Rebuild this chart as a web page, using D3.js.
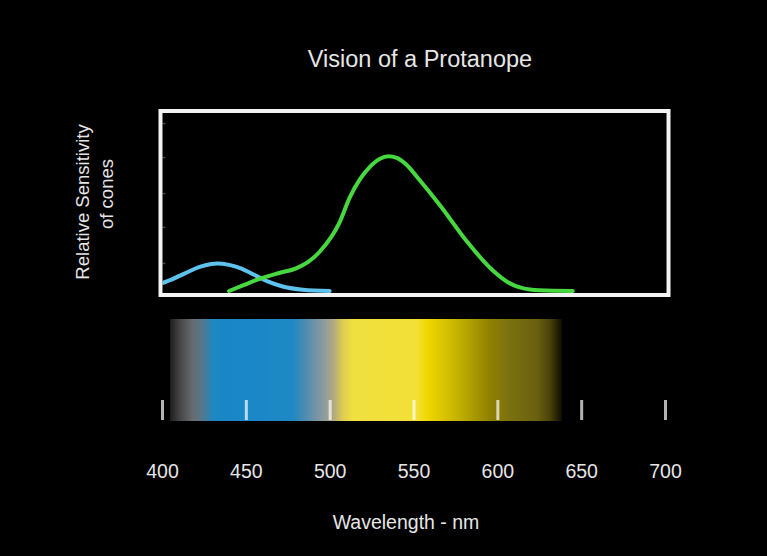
<!DOCTYPE html>
<html>
<head>
<meta charset="utf-8">
<script src="https://cdn.jsdelivr.net/npm/d3@7"></script>
<style>
  html, body { margin: 0; padding: 0; background: #000; }
  svg { display: block; }
  text { font-family: "Liberation Sans", Arial, sans-serif; fill: #e6e6e6; }
</style>
</head>
<body>
<div id="chart"></div>
<script>
// ---- data ----
const title = "Vision of a Protanope";
const yLabelLines = ["Relative Sensitivity", "of cones"];
const xLabel = "Wavelength - nm";
const xTicks = [400, 450, 500, 550, 600, 650, 700];
const yMinorTicks = [0.156, 0.356, 0.544, 0.744, 0.933];

// S-cone (blue) relative sensitivity, [wavelength nm, value]
const blueCone = [[399,0.04],[406,0.065],[413,0.095],[423,0.135],[433,0.153],[440,0.145],
  [447,0.126],[455,0.09],[463,0.053],[472,0.025],[484,0.007],[500,0]];
// M-cone (green) relative sensitivity
const greenCone = [[440,0],[449,0.034],[459,0.07],[470,0.1],[480,0.126],[487,0.16],[494,0.218],
  [506,0.383],[512,0.52],[518,0.62],[524,0.69],[530,0.735],[535,0.749],[540,0.74],[546,0.70],
  [552,0.635],[566,0.474],[582,0.273],[598,0.108],[606,0.05],[615,0.016],[625,0.004],[645,0]];

// perceived spectrum (protanope), [wavelength nm, colour]
const spectrumStops = [[404.8,"#1e1e1e"],[410.7,"#454545"],[418.5,"#686c70"],[424.5,"#50788f"],
  [430.4,"#1e88c0"],[438.8,"#1887c8"],[458.4,"#1a88c6"],[478.1,"#2088c4"],[482.3,"#3a8ab8"],
  [490,"#6a90a8"],[496,"#8a9aa0"],[502,"#b0a880"],[508,"#e0cc50"],[513.9,"#f0e040"],
  [552,"#f2e035"],[558,"#f0d800"],[571.8,"#d0bc00"],[583.7,"#b0a000"],[595.6,"#908000"],
  [607.5,"#7a7010"],[623.6,"#6a6010"],[631.4,"#4a4208"],[638.5,"#0e0d00"]];
const spectrumRange = [404.8, 638.5];
const frameRange = [399.1, 702.1];

// ---- layout ----
const W = 767, H = 556;
const svg = d3.select("#chart").append("svg").attr("width", W).attr("height", H);
svg.append("rect").attr("width", W).attr("height", H).attr("fill", "#000");

const x = d3.scaleLinear().domain([400, 700]).range([162, 665]);
const y = d3.scaleLinear().domain([0, 1]).range([291, 111]);

// title
svg.append("text").attr("x", 420).attr("y", 67).attr("text-anchor", "middle")
  .attr("font-size", 23.5).text(title);

// y label
const yl = svg.append("g");
yl.append("text").attr("transform", "translate(89,202) rotate(-90)")
  .attr("text-anchor", "middle").attr("font-size", 18.5).text(yLabelLines[0]);
yl.append("text").attr("transform", "translate(112.5,194) rotate(-90)")
  .attr("text-anchor", "middle").attr("font-size", 18.5).text(yLabelLines[1]);

// plot area clip
const frameX0 = x(frameRange[0]), frameX1 = x(frameRange[1]);
svg.append("clipPath").attr("id", "plotclip").append("rect")
  .attr("x", frameX0 + 2).attr("y", 113).attr("width", frameX1 - frameX0 - 4).attr("height", 180);

// faint inner ticks on left side
const yAxis = d3.axisRight(y).tickValues(yMinorTicks).tickSize(3).tickFormat("");
const ya = svg.append("g").attr("transform", `translate(${frameX0 + 2},0)`).call(yAxis);
ya.select(".domain").remove();
ya.selectAll("line").attr("stroke", "#888").attr("stroke-width", 1.5).attr("opacity", 0.5);

const line = d3.line().x(d => x(d[0])).y(d => y(d[1])).curve(d3.curveMonotoneX);
const plot = svg.append("g").attr("clip-path", "url(#plotclip)");
plot.append("path").datum(blueCone).attr("d", line).attr("fill", "none")
  .attr("stroke", "#5ec3ec").attr("stroke-width", 4).attr("stroke-linecap", "round");
plot.append("path").datum(greenCone).attr("d", line).attr("fill", "none")
  .attr("stroke", "#47d83f").attr("stroke-width", 4).attr("stroke-linecap", "round");

// frame
svg.append("rect").attr("x", frameX0).attr("y", 111)
  .attr("width", frameX1 - frameX0).attr("height", 184)
  .attr("fill", "none").attr("stroke", "#f2f2f2").attr("stroke-width", 4);

// spectrum bar
const grad = svg.append("defs").append("linearGradient").attr("id", "spec")
  .attr("gradientUnits", "userSpaceOnUse")
  .attr("x1", x(spectrumRange[0])).attr("x2", x(spectrumRange[1])).attr("y1", 0).attr("y2", 0);
const gs = d3.scaleLinear().domain(spectrumRange).range([0, 1]);
grad.selectAll("stop").data(spectrumStops).join("stop")
  .attr("offset", d => gs(d[0])).attr("stop-color", d => d[1]);
svg.append("rect").attr("x", x(spectrumRange[0])).attr("y", 319)
  .attr("width", x(spectrumRange[1]) - x(spectrumRange[0])).attr("height", 102)
  .attr("fill", "url(#spec)");

// tick marks
const tickAxis = d3.axisBottom(x).tickValues(xTicks).tickSizeInner(-20).tickSizeOuter(0).tickFormat("");
const ta = svg.append("g").attr("transform", "translate(0,420)").call(tickAxis);
ta.select(".domain").remove();
ta.selectAll("line").attr("stroke", "#fff").attr("stroke-opacity", 0.7).attr("stroke-width", 3);

// tick labels
const labelAxis = d3.axisBottom(x).tickValues(xTicks).tickSize(0).tickFormat(d3.format("d"));
const la = svg.append("g").call(labelAxis);
la.select(".domain").remove();
la.selectAll("text").attr("y", 478).attr("dy", 0).attr("font-size", 19.5)
  .attr("font-family", "Liberation Sans, Arial, sans-serif").attr("fill", "#e6e6e6");

// x label
svg.append("text").attr("x", 406).attr("y", 529).attr("text-anchor", "middle")
  .attr("font-size", 19.5).text(xLabel);
</script>
</body>
</html>
